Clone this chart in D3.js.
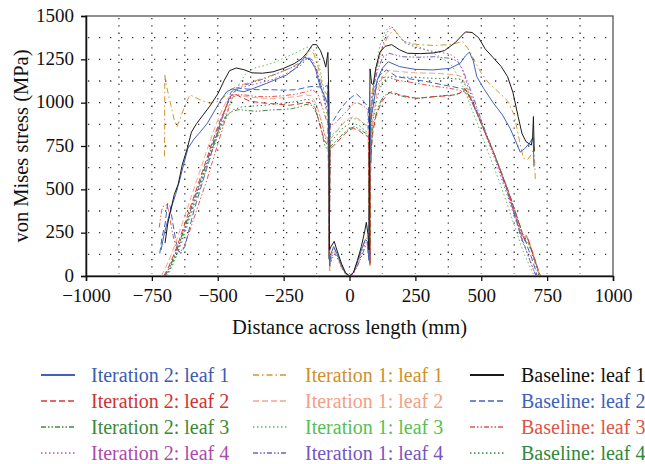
<!DOCTYPE html>
<html><head><meta charset="utf-8">
<script src="https://cdn.jsdelivr.net/npm/d3@7"></script>
<style>body{margin:0;background:#fff}svg{display:block}text{font-family:"Liberation Serif","Times New Roman",serif}</style>
</head><body><svg id="c" width="645" height="464"></svg>
<script>
const xTicks=[-1000,-750,-500,-250,0,250,500,750,1000];
const yTicks=[0,250,500,750,1000,1250,1500];
const gridX=[-875,-750,-625,-500,-375,-250,-125,0,125,250,375,500,625,750,875];
const gridY=[125,250,375,500,625,750,875,1000,1125,1250,1375];
const seriesNames=["Iteration 2: leaf 1","Iteration 2: leaf 2","Iteration 2: leaf 3","Iteration 2: leaf 4",
"Iteration 1: leaf 1","Iteration 1: leaf 2","Iteration 1: leaf 3","Iteration 1: leaf 4",
"Baseline: leaf 1","Baseline: leaf 2","Baseline: leaf 3","Baseline: leaf 4"];
const seriesColors=["#3f63bd","#d63a35","#3e8b3e","#b452b4","#d4962e","#f5a48a","#5cc25c","#7a5ec2","#1a1a1a","#3d66c4","#e2594a","#2f8a3d"];
const textColors=["#3a5cb3","#cc3333","#3a8a3a","#ad4aad","#cf8f2a","#f29f86","#55bf55","#7657bd","#111111","#3a62bd","#dd5545","#2e8a3a"];
const seriesDash=["none","6,3","5,2,1.5,2,1.5,2","1.5,2.5","6,3,1.5,3","6,3","1.5,2.5","5,2,1.5,2,1.5,2","none","6,3","5,2,1.5,2,1.5,2","1.5,2.5"];

const it2leaf1=[[-715,150],[-705,230],[-690,320],[-675,400],[-660,470],[-645,550],[-630,640],[-613,737],[-590,790],[-567,830],[-540,880],[-517,940],[-490,1010],[-466,1063],[-445,1080],[-420,1068],[-400,1063],[-360,1085],[-314,1112],[-270,1140],[-238,1160],[-200,1205],[-170,1262],[-150,1250],[-130,1200],[-112,1095],[-95,1040],[-85,1000],[-80,1120],[-78,700],[-76,60],[-70,130],[-60,170],[-45,120],[-30,60],[-15,15],[0,0],[15,20],[30,80],[45,150],[60,210],[68,200],[74,90],[77,600],[80,900],[90,980],[105,1130],[125,1200],[147,1236],[190,1208],[250,1192],[318,1189],[381,1198],[420,1227],[440,1270],[455,1292],[470,1240],[483,1150],[510,1080],[545,1000],[580,930],[610,850],[630,780],[648,715],[665,735],[685,770],[697,800],[700,630]];
const it2leaf2=[[-705,0],[-690,40],[-670,110],[-650,190],[-630,280],[-610,370],[-590,460],[-570,550],[-550,640],[-530,730],[-510,820],[-490,900],[-470,970],[-450,1040],[-435,1050],[-410,1030],[-380,1010],[-340,1000],[-300,995],[-260,990],[-230,985],[-200,990],[-170,1000],[-150,1000],[-130,970],[-110,860],[-95,780],[-85,760],[-80,770],[-77,100],[-74,730],[-55,760],[-30,800],[-5,840],[15,852],[35,840],[55,815],[72,804],[75,300],[78,60],[80,600],[85,800],[100,920],[120,1000],[145,1050],[160,1063],[192,1044],[255,1025],[318,1035],[381,1040],[419,1054],[438,1083],[455,1040],[475,970],[500,880],[525,790],[550,700],[575,600],[600,500],[620,410],[640,320],[655,250],[665,210],[673,230],[685,180],[700,110],[715,40],[725,0]];
const it2leaf3=[[-700,0],[-685,40],[-665,110],[-645,190],[-625,280],[-605,370],[-585,460],[-565,550],[-545,640],[-525,730],[-505,810],[-485,880],[-465,930],[-445,950],[-420,960],[-390,955],[-350,950],[-300,958],[-260,960],[-220,965],[-190,975],[-165,990],[-145,985],[-125,940],[-108,850],[-95,760],[-85,730],[-80,730],[-77,90],[-74,745],[-50,780],[-25,820],[0,850],[20,862],[40,845],[60,825],[72,813],[75,250],[78,80],[80,650],[88,850],[105,960],[125,1030],[150,1060],[180,1045],[220,1030],[255,1025],[300,1030],[350,1040],[400,1045],[425,1060],[440,1075],[460,1020],[480,950],[505,860],[530,770],[555,680],[580,580],[605,480],[625,390],[645,300],[660,230],[670,190],[680,195],[690,150],[705,80],[720,10]];
const it2leaf4=[[-695,0],[-680,50],[-660,120],[-640,200],[-620,290],[-600,380],[-580,470],[-560,560],[-540,650],[-520,740],[-500,830],[-480,920],[-460,1000],[-440,1060],[-420,1080],[-390,1095],[-350,1110],[-300,1130],[-250,1160],[-210,1190],[-180,1220],[-165,1255],[-150,1250],[-130,1200],[-112,1110],[-98,1020],[-88,960],[-80,960],[-77,600],[-75,80],[-68,110],[-58,140],[-45,100],[-30,45],[-15,12],[0,0],[15,12],[30,60],[45,120],[58,180],[66,200],[73,100],[76,400],[79,900],[85,1050],[100,1180],[120,1300],[140,1400],[160,1440],[180,1400],[210,1345],[260,1315],[320,1295],[380,1282],[410,1250],[430,1180],[450,1090],[475,990],[500,880],[525,780],[550,680],[575,570],[600,460],[620,370],[640,280],[655,200],[670,150],[685,90],[700,30],[710,0]];
const it1leaf1=[[-702,690],[-701,1160],[-695,1100],[-680,1000],[-665,900],[-655,860],[-640,920],[-620,1000],[-605,1045],[-585,1030],[-560,1012],[-530,997],[-500,1008],[-470,1040],[-450,1075],[-420,1100],[-380,1115],[-330,1140],[-280,1165],[-230,1195],[-190,1230],[-165,1270],[-150,1300],[-135,1280],[-118,1200],[-105,1110],[-92,1060],[-82,1040],[-79,700],[-75,30],[-68,120],[-58,160],[-45,110],[-30,50],[-15,10],[0,0],[15,15],[30,70],[45,140],[58,200],[66,220],[72,120],[76,300],[79,900],[85,1050],[100,1180],[120,1300],[145,1380],[168,1425],[185,1390],[210,1350],[260,1335],[320,1330],[380,1335],[430,1352],[455,1300],[475,1240],[500,1170],[530,1110],[560,1070],[600,1010],[625,930],[645,780],[660,680],[675,670],[690,700],[700,745],[703,650],[705,560]];
const it1leaf2=[[-715,0],[-700,40],[-680,110],[-660,190],[-640,280],[-620,370],[-600,460],[-580,550],[-560,640],[-540,730],[-520,820],[-500,900],[-480,970],[-460,1030],[-440,1050],[-410,1040],[-370,1030],[-320,1025],[-280,1025],[-240,1030],[-200,1035],[-165,1045],[-145,1040],[-125,990],[-108,900],[-95,820],[-85,790],[-80,785],[-77,110],[-74,790],[-50,830],[-25,880],[0,910],[14,919],[35,905],[55,880],[72,862],[75,300],[78,80],[80,650],[88,900],[105,1060],[125,1150],[150,1185],[192,1179],[250,1172],[318,1170],[370,1165],[406,1160],[425,1150],[445,1090],[465,1010],[490,920],[515,830],[540,740],[565,645],[590,545],[612,450],[632,355],[650,270],[662,220],[672,235],[682,200],[698,130],[712,55],[725,0]];
const it1leaf3=[[-690,0],[-675,50],[-655,120],[-635,200],[-615,290],[-595,380],[-575,470],[-555,560],[-535,650],[-515,740],[-495,830],[-475,910],[-455,990],[-435,1060],[-410,1130],[-390,1175],[-360,1200],[-320,1215],[-280,1235],[-238,1265],[-200,1290],[-163,1320],[-140,1315],[-125,1270],[-110,1180],[-100,1090],[-92,1000],[-86,930],[-80,820],[-77,100],[-74,800],[-50,840],[-25,880],[0,905],[14,910],[35,900],[55,880],[72,850],[75,300],[78,60],[80,700],[88,1000],[100,1200],[115,1330],[135,1410],[155,1445],[175,1410],[200,1360],[250,1330],[300,1300],[350,1260],[390,1210],[420,1130],[445,1040],[470,940],[495,840],[520,740],[545,640],[570,540],[595,430],[615,340],[635,250],[650,180],[665,120],[680,70],[695,20],[702,0]];
const it1leaf4=[[-700,0],[-685,45],[-665,115],[-645,195],[-625,285],[-605,375],[-585,465],[-565,555],[-545,645],[-525,735],[-505,825],[-485,910],[-465,990],[-445,1050],[-425,1085],[-400,1100],[-360,1120],[-320,1140],[-280,1165],[-240,1190],[-200,1215],[-170,1245],[-155,1260],[-140,1245],[-122,1180],[-105,1080],[-92,1000],[-84,960],[-79,950],[-77,500],[-75,60],[-66,100],[-55,130],[-40,90],[-25,35],[-10,8],[0,0],[12,8],[28,50],[45,110],[60,170],[68,180],[74,90],[77,500],[80,900],[88,1060],[105,1180],[125,1260],[150,1285],[200,1265],[260,1262],[320,1265],[381,1256],[410,1240],[430,1190],[450,1110],[475,1010],[500,900],[525,800],[550,700],[575,590],[600,480],[620,390],[640,300],[655,220],[668,160],[682,100],[697,40],[708,0]];
const baseLeaf1=[[-700,190],[-690,300],[-680,370],[-665,470],[-650,530],[-635,640],[-615,740],[-600,830],[-580,880],[-555,930],[-530,980],[-500,1050],[-475,1130],[-455,1185],[-430,1200],[-400,1190],[-370,1172],[-330,1170],[-290,1178],[-250,1198],[-210,1225],[-180,1255],[-160,1290],[-140,1335],[-125,1335],[-110,1300],[-98,1250],[-90,1205],[-82,1290],[-78,1000],[-76,150],[-70,170],[-58,200],[-48,150],[-30,70],[-15,20],[0,0],[15,20],[30,90],[45,170],[58,260],[64,310],[70,240],[74,150],[76,800],[78,1195],[84,1110],[90,1105],[100,1200],[115,1290],[135,1325],[160,1335],[190,1305],[220,1285],[270,1283],[320,1287],[360,1300],[400,1345],[440,1408],[465,1405],[490,1375],[515,1310],[545,1260],[575,1210],[600,1150],[620,1060],[640,920],[655,820],[670,775],[690,755],[695,800],[698,920],[701,720]];
const baseLeaf2=[[-720,130],[-712,220],[-700,300],[-690,420],[-680,400],[-670,300],[-660,210],[-650,150],[-640,130],[-625,170],[-610,260],[-590,380],[-570,480],[-550,580],[-530,680],[-510,780],[-490,880],[-470,970],[-450,1060],[-430,1085],[-400,1080],[-350,1075],[-300,1075],[-250,1072],[-200,1075],[-160,1090],[-135,1095],[-115,1090],[-100,1095],[-90,1095],[-84,1100],[-80,600],[-77,100],[-75,500],[-73,880],[-60,900],[-40,950],[-15,1000],[10,1035],[27,1050],[45,1025],[60,995],[72,975],[75,400],[77,100],[79,700],[82,980],[95,1080],[115,1160],[141,1189],[179,1150],[220,1140],[255,1131],[300,1120],[356,1102],[400,1090],[419,1083],[440,1075],[460,1030],[480,960],[500,890],[520,810],[545,720],[570,620],[595,510],[615,410],[635,310],[650,230],[660,190],[667,210],[675,170],[690,110],[705,40],[712,0]];
const baseLeaf3=[[-722,280],[-713,380],[-705,405],[-692,412],[-685,360],[-672,250],[-660,170],[-648,140],[-635,150],[-620,200],[-600,290],[-580,380],[-560,470],[-540,560],[-520,660],[-500,760],[-480,860],[-462,950],[-445,1030],[-425,1045],[-400,1045],[-350,1035],[-300,1035],[-250,1040],[-200,1050],[-160,1065],[-140,1075],[-120,1050],[-100,960],[-88,900],[-80,880],[-77,120],[-74,870],[-55,880],[-30,920],[-5,960],[15,995],[30,1000],[50,985],[70,958],[75,350],[78,120],[80,700],[85,950],[100,1080],[120,1140],[140,1150],[180,1130],[255,1112],[320,1095],[381,1083],[420,1070],[440,1060],[465,1000],[490,920],[515,830],[540,740],[565,640],[590,540],[610,440],[630,340],[648,260],[662,220],[670,240],[680,200],[695,130],[710,60],[722,0]];
const baseLeaf4=[[-695,0],[-680,40],[-660,110],[-640,190],[-620,280],[-600,370],[-580,460],[-560,550],[-540,640],[-520,730],[-500,810],[-480,880],[-460,930],[-440,960],[-410,975],[-370,980],[-320,985],[-270,995],[-230,1000],[-190,1010],[-160,1020],[-140,1010],[-120,960],[-105,880],[-92,800],[-84,770],[-79,765],[-77,100],[-74,770],[-50,810],[-25,855],[0,878],[15,881],[35,870],[55,845],[72,823],[75,250],[78,70],[80,650],[88,880],[105,1030],[125,1120],[150,1150],[200,1148],[260,1145],[320,1140],[380,1140],[420,1135],[440,1100],[460,1030],[485,940],[510,850],[535,760],[560,660],[585,560],[608,465],[628,370],[645,290],[658,230],[668,200],[678,190],[690,140],[705,70],[718,5]];

const seriesData=[it2leaf1,it2leaf2,it2leaf3,it2leaf4,it1leaf1,it1leaf2,it1leaf3,it1leaf4,baseLeaf1,baseLeaf2,baseLeaf3,baseLeaf4];
const drawOrder=[11,10,9,7,6,5,3,2,1,4,0,8];

const svg=d3.select("#c");
const L=86,R=613,T=16,B=276;
const x=d3.scaleLinear().domain([-1000,1000]).range([L,R]);
const y=d3.scaleLinear().domain([0,1500]).range([B,T]);

// grid
const g=svg.append("g");
g.selectAll("line.gy").data(gridY).join("line").attr("x1",L+2).attr("x2",R-2)
 .attr("y1",d=>y(d)).attr("y2",d=>y(d)).attr("stroke","#333").attr("stroke-width",1.3).attr("stroke-dasharray","1.3,9.7");
g.selectAll("line.gx").data(gridX).join("line").attr("y1",T+2).attr("y2",B-2)
 .attr("x1",d=>x(d)).attr("x2",d=>x(d)).attr("stroke","#333").attr("stroke-width",1.3).attr("stroke-dasharray","1.3,6");

// frame
svg.append("rect").attr("x",L).attr("y",T).attr("width",R-L).attr("height",B-T).attr("fill","none").attr("stroke","#555").attr("stroke-width",1.3);

// lines
const line=d3.line().x(d=>x(d[0])).y(d=>y(d[1]));
const lg=svg.append("g").attr("fill","none");
drawOrder.forEach(i=>{
  lg.append("path").datum(seriesData[i]).attr("d",line).attr("stroke",seriesColors[i])
   .attr("stroke-width",1).attr("stroke-dasharray",seriesDash[i]).attr("stroke-linejoin","round");
});

// axes
const xa=svg.append("g").attr("transform",`translate(0,${B})`)
 .call(d3.axisBottom(x).tickValues(xTicks).tickSize(5).tickPadding(8).tickFormat(d3.format("d")));
const ya=svg.append("g").attr("transform",`translate(${L},0)`)
 .call(d3.axisLeft(y).tickValues(yTicks).tickSize(5).tickPadding(7).tickFormat(d3.format("d")));
[xa,ya].forEach(a=>{a.select(".domain").attr("stroke","#111").attr("stroke-width",1.5);
 a.selectAll(".tick line").attr("stroke","#111").attr("stroke-width",1.3);
 a.selectAll("text").attr("font-family","Liberation Serif").attr("font-size",19).attr("fill","#111");});
ya.selectAll(".tick text").attr("dy","0.28em");

svg.append("text").attr("x",(L+R)/2).attr("y",334).attr("text-anchor","middle").attr("font-size",20.5).attr("fill","#111").text("Distance across length (mm)");
svg.append("text").attr("transform",`translate(28,${(T+B)/2}) rotate(-90)`).attr("text-anchor","middle").attr("font-size",20.5).attr("fill","#111").text("von Mises stress (MPa)");

// legend
const colSample=[41,253,470], colText=[91,305,521], rowY=[375,401,427,453];
seriesNames.forEach((n,i)=>{
  const c=Math.floor(i/4), r=i%4;
  svg.append("line").attr("x1",colSample[c]).attr("x2",colSample[c]+34).attr("y1",rowY[r]).attr("y2",rowY[r])
   .attr("stroke",seriesColors[i]).attr("stroke-width",seriesDash[i]==="none"?2:1.5).attr("stroke-dasharray",seriesDash[i]);
  svg.append("text").attr("x",colText[c]).attr("y",rowY[r]).attr("dy","0.33em").attr("font-size",20)
   .attr("fill",textColors[i]).text(n);
});
</script></body></html>
